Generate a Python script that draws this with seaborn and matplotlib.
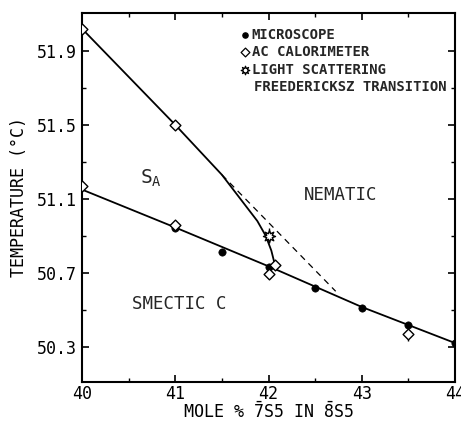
import numpy as np
import pandas as pd
import matplotlib
matplotlib.use("Agg")
import matplotlib.pyplot as plt
import seaborn as sns

# ---- data ----
micro_x = [41.0, 41.5, 42.0, 42.5, 43.0, 43.5, 44.0]
micro_t = [50.94, 50.81, 50.73, 50.62, 50.51, 50.42, 50.32]

ac_x = [40.0, 41.0, 40.0, 41.0, 42.0, 42.07, 43.5]
ac_t = [52.02, 51.50, 51.17, 50.96, 50.695, 50.74, 50.37]
ac_err = [0, 0, 0, 0, 0, 0, 0.04]

ls_x = [42.0]
ls_t = [50.90]
ls_err = [0.04]

# phase boundaries
sa_n_x = [40.0, 41.0, 41.5, 41.88, 41.97, 42.03, 42.07]
sa_n_t = [52.02, 51.50, 51.23, 50.98, 50.90, 50.82, 50.74]

c_x = [40.0, 41.0, 42.0, 42.07, 43.0, 44.0]
c_t = [51.15, 50.945, 50.735, 50.72, 50.515, 50.32]

dash_x = [41.5, 42.72]
dash_t = [51.23, 50.60]

xticks = [40, 41, 42, 43, 44]
yticks = [50.3, 50.7, 51.1, 51.5, 51.9]

legend_labels = ["MICROSCOPE", "AC CALORIMETER", "LIGHT SCATTERING",
                 "FREEDERICKSZ TRANSITION"]

sns.set_theme(style="ticks")
plt.rcParams["font.family"] = ["DejaVu Sans Mono", "DejaVu Sans"]
plt.rcParams["mathtext.fontset"] = "custom"
plt.rcParams["mathtext.rm"] = "DejaVu Sans Mono"
plt.rcParams["mathtext.it"] = "DejaVu Sans Mono"

fig = plt.figure(figsize=(4.61, 4.21), dpi=100)
ax = fig.add_axes([0.178, 0.093, 0.809, 0.876])

sns.lineplot(x=sa_n_x, y=sa_n_t, ax=ax, color="black", lw=1.3, sort=False, estimator=None)
sns.lineplot(x=c_x, y=c_t, ax=ax, color="black", lw=1.3, sort=False, estimator=None)
ax.plot(dash_x, dash_t, color="black", lw=0.9, ls=(0, (5, 4)))

ax.errorbar(ac_x, ac_t, yerr=ac_err, fmt="none", ecolor="black", lw=1.0, capsize=0)
ax.errorbar(ls_x, ls_t, yerr=ls_err, fmt="none", ecolor="black", lw=1.0, capsize=0)

sns.scatterplot(x=micro_x, y=micro_t, ax=ax, color="black", s=28, marker="o",
                edgecolor="black", zorder=5)
sns.scatterplot(x=ac_x, y=ac_t, ax=ax, color="white", s=30, marker="D",
                edgecolor="black", linewidth=1.0, zorder=6)
sns.scatterplot(x=ls_x, y=ls_t, ax=ax, color="white", s=75, marker=(8, 1, 0),
                edgecolor="black", linewidth=1.0, zorder=6)

ax.set_xlim(40, 44)
ax.set_ylim(50.11, 52.105)
ax.set_xticks(xticks)
ax.set_xticklabels([str(v) for v in xticks])
ax.set_yticks(yticks)
ax.set_yticklabels([f"{v:.1f}" for v in yticks])
ax.set_xticks([40.5, 41.5, 42.5, 43.5], minor=True)
ax.set_yticks([50.5, 50.9, 51.3, 51.7], minor=True)
ax.tick_params(which="both", direction="in", top=True, right=True, colors="black",
               labelsize=12)
ax.tick_params(axis="x", pad=2)
ax.tick_params(axis="y", pad=4)
ax.tick_params(which="major", length=5, width=1.2)
ax.tick_params(which="minor", length=3, width=1.0)
for s in ax.spines.values():
    s.set_color("black")
    s.set_linewidth(1.5)

ax.set_xlabel(r"MOLE % $\bar{\mathrm{7}}$S5 IN $\bar{\mathrm{8}}$S5", fontsize=12,
              color="black", labelpad=-1)
ax.set_ylabel("TEMPERATURE (°C)", fontsize=12, color="black", labelpad=6)

ax.text(40.74, 51.21, r"S$_{\mathrm{A}}$", fontsize=14, ha="center", va="center")
ax.text(42.77, 51.12, "NEMATIC", fontsize=12.5, ha="center", va="center")
ax.text(41.04, 50.53, "SMECTIC C", fontsize=12.5, ha="center", va="center")

# legend as text block
rows = [51.986, 51.892, 51.797, 51.703]
lx_m, lx_t = 41.75, 41.82
ax.scatter([lx_m], [rows[0]], s=14, color="black", zorder=7)
ax.scatter([lx_m], [rows[1]], s=20, marker="D", color="white", edgecolor="black",
           linewidth=0.9, zorder=7)
ax.scatter([lx_m], [rows[2]], s=38, marker=(8, 1, 0), color="white", edgecolor="black",
           linewidth=0.9, zorder=7)
for i, lab in enumerate(legend_labels):
    ax.text(lx_t + (0.02 if i == 3 else 0), rows[i], lab, fontsize=10, va="center",
            fontweight="bold")

fig.savefig("out.png", dpi=100, facecolor="white")
